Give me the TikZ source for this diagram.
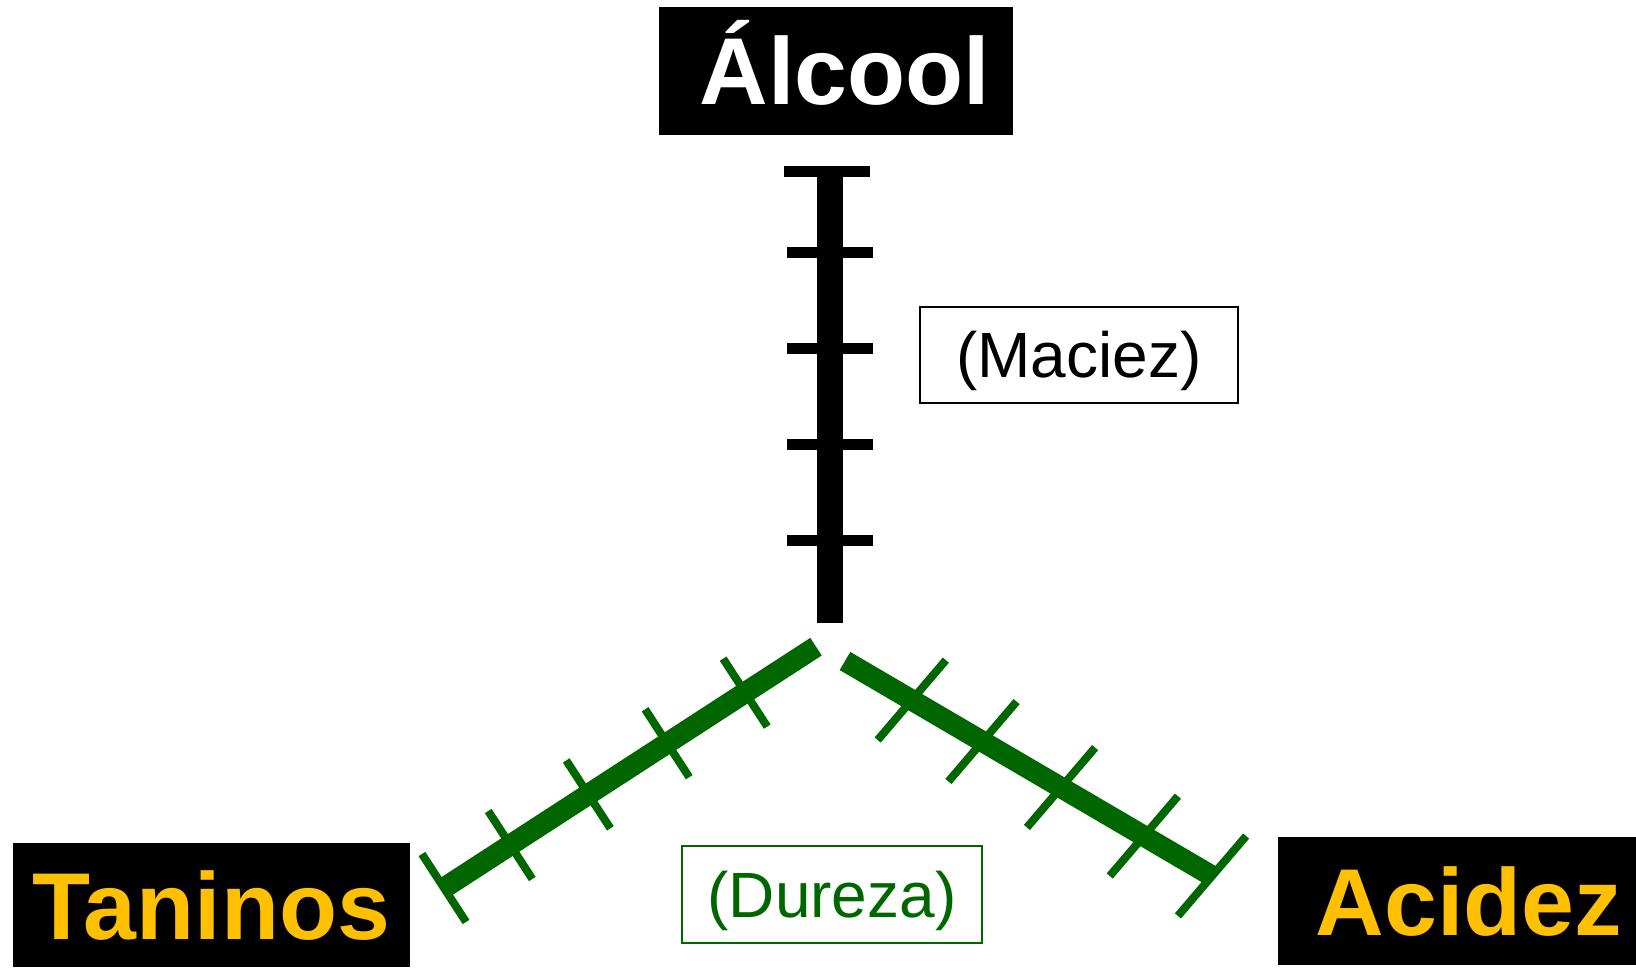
\documentclass[tikz,border=0pt]{standalone}
\usepackage{fontspec}
\setmainfont{Liberation Sans}
\usetikzlibrary{calc}

\definecolor{gold}{HTML}{FFC000}
\definecolor{winegreen}{HTML}{006600}

\begin{document}
\begin{tikzpicture}[
  x=1pt, y=1pt,
  title/.style = {fill=black, inner sep=0pt, text height=68pt, text depth=0pt,
                  font=\fontsize{95}{95}\selectfont\bfseries},
  note/.style = {draw, line width=2pt, inner sep=0pt, text height=46pt, text depth=0pt,
                 font=\fontsize{64}{64}\selectfont},
  blackbar/.style = {line width=26pt},
  blacktick/.style = {line width=11pt},
  greenbar/.style = {winegreen, line width=21pt},
  greentick/.style = {winegreen, line width=8pt}
]
  \useasboundingbox (0,0) rectangle (1636,967);

  % Labels of the three axes
  \node[title, text=white, minimum width=354, minimum height=128] (alcool) at (836,896) {\hspace*{18pt}Álcool};
  \node[title, text=gold, minimum width=397, minimum height=124] (taninos) at (211.5,62) {Taninos};
  \node[title, text=gold, minimum width=358, minimum height=128] (acidez) at (1457,66) {\hspace*{24pt}Acidez};

  % Side notes
  \node[note, minimum width=318, minimum height=96] (maciez) at (1079,612) {(Maciez)};
  \node[note, draw=winegreen, text=winegreen, minimum width=300, minimum height=97] (dureza) at (832,72.5) {(Dureza)};

  % Alcohol axis
  \coordinate (alc_end) at (830,795.5);
  \coordinate (alc_tip) at (830,344);
  \draw[blackbar] (alc_end) -- (alc_tip);
  \draw[blacktick] (alc_end) +(-46,0) -- +(40,0);
  \draw[blacktick] ($(alc_end)!81.5pt!(alc_tip)$) +(-43,0) -- +(43,0);
  \draw[blacktick] ($(alc_end)!177.5pt!(alc_tip)$) +(-43,0) -- +(43,0);
  \draw[blacktick] ($(alc_end)!273.5pt!(alc_tip)$) +(-43,0) -- +(43,0);
  \draw[blacktick] ($(alc_end)!369.5pt!(alc_tip)$) +(-43,0) -- +(43,0);

  % Tannin axis
  \coordinate (tan_end) at (444,79);
  \coordinate (tan_tip) at (816,320.3);
  \draw[greenbar] (tan_end) -- (tan_tip);
  \draw[greentick] (tan_end) +(123:40.5) -- +(303:40.5);
  \draw[greentick] ($(tan_end)!79pt!(tan_tip)$) +(123:40.5) -- +(303:40.5);
  \draw[greentick] ($(tan_end)!172pt!(tan_tip)$) +(123:40.5) -- +(303:40.5);
  \draw[greentick] ($(tan_end)!266pt!(tan_tip)$) +(123:40.5) -- +(303:40.5);
  \draw[greentick] ($(tan_end)!359pt!(tan_tip)$) +(123:40.5) -- +(303:40.5);

  % Acidity axis
  \coordinate (aci_end) at (1212,91);
  \coordinate (aci_tip) at (845,306);
  \draw[greenbar] (aci_end) -- (aci_tip);
  \draw[greentick] (aci_end) +(49.5:52.5) -- +(229.5:52.5);
  \draw[greentick] ($(aci_end)!79pt!(aci_tip)$) +(49.5:52.5) -- +(229.5:52.5);
  \draw[greentick] ($(aci_end)!175pt!(aci_tip)$) +(49.5:52.5) -- +(229.5:52.5);
  \draw[greentick] ($(aci_end)!266pt!(aci_tip)$) +(49.5:52.5) -- +(229.5:52.5);
  \draw[greentick] ($(aci_end)!348pt!(aci_tip)$) +(49.5:52.5) -- +(229.5:52.5);

\end{tikzpicture}
\end{document}
